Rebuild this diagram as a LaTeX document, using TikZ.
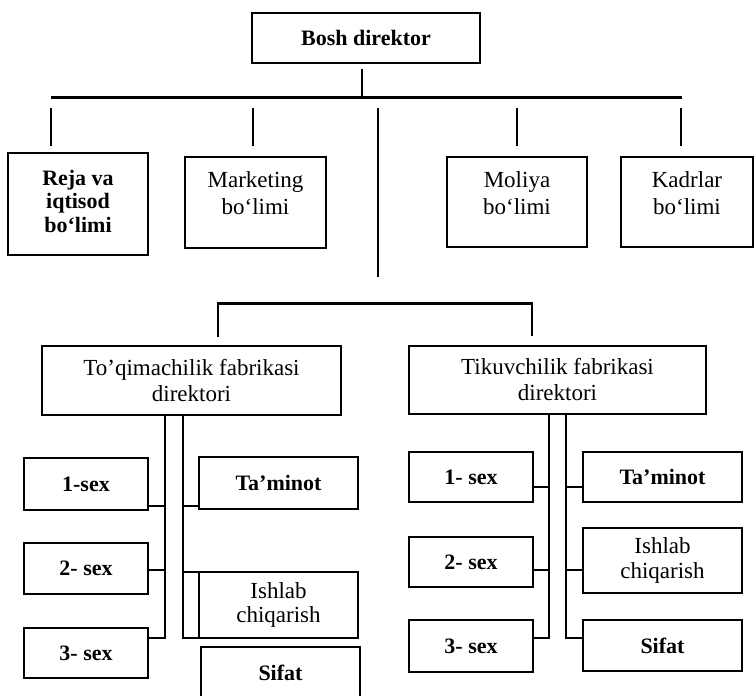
\documentclass[tikz,border=0pt]{standalone}
\usepackage{fontspec}
\setmainfont{Liberation Serif}
\usetikzlibrary{calc}
\begin{document}
\begin{tikzpicture}[x=1pt,y=-1pt,
  box/.style={draw, line width=2.2pt, inner sep=0pt, align=center,
              font=\fontsize{23}{26}\selectfont},
  bbox/.style={box, font=\fontsize{22}{25}\selectfont\bfseries},
  lbl/.style={inner sep=0pt, align=center},
  link/.style={line width=2.2pt}]
\useasboundingbox[fill=white] (0,0) rectangle (756,696);
\clip (0,0) rectangle (756,696);

% --- head office -------------------------------------------------------
\node[bbox, minimum width=228pt, minimum height=50pt] (bosh) at (366,38) {Bosh direktor};

% departments
\node[box, minimum width=140pt, minimum height=102pt] (reja) at (78,204) {};
\node[lbl, font=\fontsize{22}{23.5}\selectfont\bfseries] (rejaT) at ($(reja.center)+(0,-3)$) {Reja va\\iqtisod\\bo‘limi};
\node[box, minimum width=141pt, minimum height=91pt] (mark) at (255.5,202.5) {};
\node[lbl, font=\fontsize{23}{27}\selectfont] (markT) at ($(mark.center)+(0,-9)$) {Marketing\\bo‘limi};
\node[box, minimum width=140pt, minimum height=90pt] (moliya) at (517,202) {};
\node[lbl, font=\fontsize{23}{27}\selectfont] (moliyaT) at ($(moliya.center)+(0,-9)$) {Moliya\\bo‘limi};
\node[box, minimum width=132pt, minimum height=90pt] (kadr) at (687,202) {};
\node[lbl, font=\fontsize{23}{27}\selectfont] (kadrT) at ($(kadr.center)+(0,-9)$) {Kadrlar\\bo‘limi};

% factories
\node[box, minimum width=299pt, minimum height=69pt] (toq) at (191.5,380.5) {To’qimachilik fabrikasi\\direktori};
\node[box, minimum width=297pt, minimum height=68pt] (tik) at (557.5,380) {Tikuvchilik fabrikasi\\direktori};

% weaving factory units
\node[bbox, minimum width=124pt, minimum height=52pt] (t1) at (86,484) {1-sex};
\node[bbox, minimum width=124pt, minimum height=51pt] (t2) at (86,568.5) {2- sex};
\node[bbox, minimum width=124pt, minimum height=50pt] (t3) at (86,653) {3- sex};
\node[bbox, minimum width=159pt, minimum height=52pt] (tTa) at (278.5,483) {Ta’minot};
\node[box, minimum width=159pt, minimum height=66pt, font=\fontsize{23}{24}\selectfont] (tIs) at (278.5,605) {Ishlab\\chiqarish};
\node[bbox, minimum width=159pt, minimum height=52pt] (tSi) at (280.5,673) {Sifat};

% sewing factory units
\node[bbox, minimum width=124pt, minimum height=50pt] (k1) at (471,477) {1- sex};
\node[bbox, minimum width=124pt, minimum height=50pt] (k2) at (471,562) {2- sex};
\node[bbox, minimum width=124pt, minimum height=52pt] (k3) at (471,646) {3- sex};
\node[bbox, minimum width=159pt, minimum height=50pt] (kTa) at (662.5,477) {Ta’minot};
\node[box, minimum width=159pt, minimum height=65pt, font=\fontsize{23}{25}\selectfont] (kIs) at (662.5,560.5) {Ishlab\\chiqarish};
\node[bbox, minimum width=159pt, minimum height=51pt] (kSi) at (662.5,645.5) {Sifat};

% --- connectors -----------------------------------------------------------
\coordinate (busL) at (51,97.5);
\coordinate (busR) at (682,97.5);
\coordinate (bj) at (362,97.5);
\draw[link] (busL) -- (busR);
\draw[link, shorten <=5pt] (bosh.south -| bj) -- (bj);

\coordinate (s1) at (51,108);
\coordinate (s2) at (253,108);
\coordinate (s3) at (517,108);
\coordinate (s4) at (681,108);
\draw[link, shorten >=6pt]  (s1) -- (s1 |- reja.north);
\draw[link, shorten >=10pt] (s2) -- (s2 |- mark.north);
\draw[link, shorten >=10pt] (s3) -- (s3 |- moliya.north);
\draw[link, shorten >=10pt] (s4) -- (s4 |- kadr.north);

\coordinate (m1) at (378,108);
\coordinate (m2) at (378,277);
\draw[link] (m1) -- (m2);

\coordinate (fl) at (218,303.5);
\coordinate (fr) at (532,303.5);
\draw[link, shorten <=8pt, shorten >=9pt] (toq.north -| fl) -- (fl) -- (fr) -- (tik.north -| fr);

% weaving factory trunks
\coordinate (tlb) at (165,638);
\coordinate (trb) at (183,638);
\coordinate (tl1) at (165,506);
\coordinate (tl2) at (165,570);
\coordinate (tr1) at (183,506);
\coordinate (tr2) at (183,572);
\draw[link] (toq.south -| tlb) -- (tlb) -- (tlb -| t3.east);
\draw[link] (toq.south -| trb) -- (trb) -- (trb -| tIs.west);
\draw[link] (tl1) -- (tl1 -| t1.east);
\draw[link] (tl2) -- (tl2 -| t2.east);
\draw[link] (tr1) -- (tr1 -| tTa.west);
\draw[link] (tr2) -- (tr2 -| tIs.west);

% sewing factory trunks
\coordinate (klb) at (549,638);
\coordinate (krb) at (566,638);
\coordinate (kl1) at (549,487);
\coordinate (kl2) at (549,570);
\coordinate (kr1) at (566,487);
\coordinate (kr2) at (566,570);
\draw[link] (tik.south -| klb) -- (klb) -- (klb -| k3.east);
\draw[link] (tik.south -| krb) -- (krb) -- (krb -| kSi.west);
\draw[link] (kl1) -- (kl1 -| k1.east);
\draw[link] (kl2) -- (kl2 -| k2.east);
\draw[link] (kr1) -- (kr1 -| kTa.west);
\draw[link] (kr2) -- (kr2 -| kIs.west);
\end{tikzpicture}
\end{document}
